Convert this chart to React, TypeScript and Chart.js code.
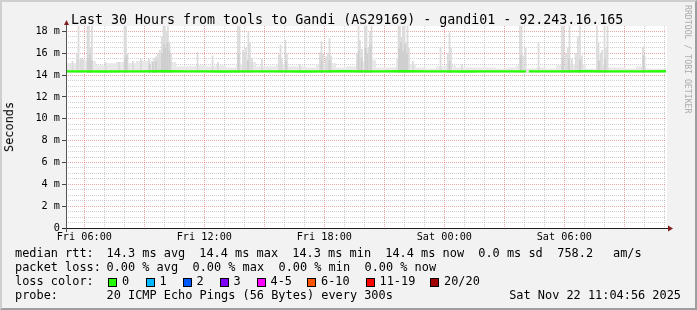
import React, { useEffect, useRef } from "react";
import { Chart, registerables } from "chart.js";

Chart.register(...registerables);

// ---------- time axis (hours since Fri 00:00) ----------
const START_HOUR = 5 + 5 / 60; // Fri 05:05
const END_HOUR = START_HOUR + 30; // Sat 11:05
const xTickHours = [6, 12, 18, 24, 30];
const xTickLabels = ["Fri 06:00", "Fri 12:00", "Fri 18:00", "Sat 00:00", "Sat 06:00"];

// ---------- value axis (milliseconds) ----------
const Y_MAX = 18.5;
const yTickValues = [0, 2, 4, 6, 8, 10, 12, 14, 16, 18];
const yTickLabels = ["0", "2 m", "4 m", "6 m", "8 m", "10 m", "12 m", "14 m", "16 m", "18 m"];
const yGridStep = 0.5;

// ---------- smoke ----------
const SMOKE_MIN = 14.2;
const FUZZ_SLOT = 0.5; // hours per background smoke slot
const fuzzMax = [
  15.1, 15.4, 15.3, 14.9, 15.1, 15.2, 15.1, 15.3, 15.3, 15.6,
  15.2, 14.8, 14.8, 14.9, 14.8, 14.9, 14.7, 15.0, 15.2, 14.8,
  14.8, 15.0, 14.8, 14.8, 14.7, 15.0, 15.1, 14.7, 14.8, 15.3,
  15.4, 14.7, 14.7, 15.5, 15.0, 14.7, 14.6, 14.8, 14.9, 14.7,
  14.7, 14.7, 14.7, 14.6, 14.7, 14.9, 14.6, 14.7, 14.6, 14.9,
  15.0, 15.0, 14.6, 14.9, 14.7, 14.7, 14.6, 14.8, 14.6, 14.6,
];

const spikeHours = [
  5.41, 5.63, 5.71, 5.83, 5.93, 6.16, 6.23, 6.31, 6.38, 7.06,
  7.73, 8.01, 8.08, 8.16, 8.43, 8.83, 9.23, 9.48, 9.58, 9.68,
  9.78, 9.88, 9.96, 10.03, 10.11, 10.18, 10.26, 10.33, 11.66, 12.41,
  12.68, 13.68, 13.76, 13.93, 14.01, 14.08, 14.2, 14.28, 14.38, 14.88,
  15.73, 15.81, 15.88, 16.06, 16.13, 16.78, 17.78, 17.86, 17.93, 18.08,
  18.18, 18.26, 18.33, 19.63, 19.71, 19.78, 19.88, 20.03, 20.11, 20.21,
  20.28, 20.36, 21.71, 21.78, 21.86, 21.93, 22.01, 22.08, 22.16, 22.23,
  22.43, 23.81, 24.18, 24.26, 24.33, 24.88, 27.78, 27.86, 27.93, 28.06,
  28.71, 29.88, 29.96, 30.08, 30.18, 30.26, 30.38, 30.58, 30.68, 30.78,
  30.88, 31.63, 31.71, 31.81, 31.88, 32.01, 32.08, 32.16, 33.93, 34.01,
];
const spikeMax = [
  15.3, 16.0, 18.5, 15.6, 15.5, 18.5, 18.5, 16.5, 18.5, 15.2,
  15.2, 18.5, 18.5, 16.0, 15.3, 15.5, 15.5, 15.5, 15.7, 16.0,
  16.3, 17.5, 18.5, 18.5, 18.0, 18.5, 17.0, 16.0, 16.1, 15.8,
  15.2, 18.5, 18.5, 16.3, 16.0, 16.5, 18.0, 17.0, 15.6, 15.5,
  15.9, 16.8, 15.6, 17.2, 16.0, 15.0, 16.1, 17.1, 16.0, 15.7,
  16.0, 17.4, 15.8, 16.0, 18.5, 17.2, 16.4, 18.5, 18.5, 16.5,
  18.0, 18.5, 18.5, 18.5, 17.5, 18.5, 18.5, 17.0, 18.5, 16.5,
  15.3, 16.6, 16.0, 17.9, 16.5, 15.0, 18.5, 18.5, 15.8, 16.5,
  17.0, 18.5, 18.5, 16.0, 16.5, 18.5, 15.5, 16.0, 17.5, 18.5,
  15.8, 18.5, 17.0, 16.0, 16.3, 18.5, 16.5, 18.5, 16.6, 15.8,
];

const denseHours = [
  6.18, 6.28, 6.36, 8.03, 8.11, 9.28, 9.43, 9.58, 9.88, 9.98,
  10.06, 10.16, 10.26, 13.71, 14.18, 16.08, 17.86, 18.26, 19.71, 19.86,
  20.06, 20.16, 20.31, 21.73, 21.83, 21.93, 22.03, 22.13, 24.26, 27.83,
  29.93, 30.23, 30.78, 31.73, 32.03, 33.96,
];
const denseMax = [
  15.6, 16.0, 15.4, 15.5, 15.8, 15.0, 15.2, 15.3, 16.0, 16.8,
  16.5, 17.0, 16.2, 16.0, 15.4, 15.3, 15.4, 15.4, 16.2, 15.6,
  16.5, 16.0, 16.8, 16.5, 17.0, 16.2, 16.8, 16.0, 15.3, 15.8,
  15.6, 15.5, 15.4, 15.3, 15.5, 15.8,
];

// ---------- median rtt ----------
const medianHours = [
  5.08, 6, 7, 8, 9, 10, 11, 12, 13, 14, 15, 16, 17, 18, 19, 20, 21, 22, 23, 24,
  25, 26, 27, 28, 28.08, 28.16, 28.23, 29, 30, 31, 32, 33, 34, 35.09,
];
const medianValues = [
  14.34, 14.34, 14.33, 14.34, 14.34, 14.35, 14.34, 14.34, 14.33, 14.34,
  14.34, 14.34, 14.33, 14.34, 14.35, 14.34, 14.34, 14.35, 14.34, 14.34,
  14.33, 14.34, 14.34, 14.34, 14.34, null, 14.34, 14.34, 14.34, 14.35,
  14.34, 14.34, 14.34, 14.36,
];

// ---------- legend texts ----------
const titleText = "Last 30 Hours from tools to Gandi (AS29169) - gandi01 - 92.243.16.165";
const yAxisTitle = "Seconds";
const watermark = "RRDTOOL / TOBI OETIKER";
const rttLabels = ["median rtt:", "14.3 ms avg", "14.4 ms max", "14.3 ms min", "14.4 ms now", "0.0 ms sd", "758.2", "am/s"];
const lossLabels = ["packet loss:", "0.00 % avg", "0.00 % max", "0.00 % min", "0.00 % now"];
const lossColorTitle = "loss color:";
const lossColorLabels = ["0", "1", "2", "3", "4-5", "6-10", "11-19", "20/20"];
const lossColors = ["#26ff00", "#00b8ff", "#0059ff", "#7e00ff", "#ff00ff", "#ff5500", "#ff0000", "#a10000"];
const probeTitle = "probe:";
const probeText = "20 ICMP Echo Pings (56 Bytes) every 300s";
const stampText = "Sat Nov 22 11:04:56 2025";

// ---------- layout (pixels) ----------
const W = 697;
const H = 310;
const MONO = "'DejaVu Sans Mono', monospace";
const rttX = [15, 106.5, 199.3, 292.3, 385.3, 478.3, 557.3, 613];
const lossX = [15, 106.5, 192.5, 278.5, 364.5];
const boxX = [108, 145.5, 182.5, 219.5, 256.5, 307, 365.5, 430];
const legendBase = [258.5, 272.2, 286, 299.8];
const LEG_FS = 11.9;

const MAJOR = "rgba(222,79,79,0.5)";
const MINOR = "rgba(143,143,143,0.42)";

const isMajorY = (v: number) => Math.abs(v / 2 - Math.round(v / 2)) < 1e-6;

function Txt(props: { x: number; base: number; size: number; children: any; style?: any }) {
  const { x, base, size, children, style } = props;
  return (
    <div
      style={{
        position: "absolute",
        left: x,
        top: base - 0.846 * size,
        fontFamily: MONO,
        fontSize: size,
        lineHeight: 1,
        whiteSpace: "pre",
        color: "#000",
        ...style,
      }}
    >
      {children}
    </div>
  );
}

export default function App() {
  const ref = useRef<HTMLCanvasElement>(null);

  useEffect(() => {
    const canvas = ref.current;
    if (!canvas) return;

    const fuzzData = fuzzMax.map((v, i) => ({ x: START_HOUR + FUZZ_SLOT * (i + 0.5), y: [SMOKE_MIN, v] }));
    const spikeData = spikeHours.map((h, i) => ({ x: h, y: [SMOKE_MIN, spikeMax[i]] }));
    const denseData = denseHours.map((h, i) => ({ x: h, y: [SMOKE_MIN, denseMax[i]] }));
    const medianData = medianHours.map((h, i) => ({ x: h, y: medianValues[i] }));

    const frame = {
      id: "rrdFrame",
      beforeDraw(chart: any) {
        const { ctx, chartArea: ca } = chart;
        ctx.save();
        ctx.fillStyle = "#ffffff";
        ctx.fillRect(ca.left, ca.top, ca.right - ca.left + 1, ca.bottom - ca.top);
        ctx.restore();
      },
      afterDraw(chart: any) {
        const { ctx, chartArea: ca } = chart;
        ctx.save();
        ctx.lineWidth = 1;
        ctx.strokeStyle = "#1f1f1f";
        ctx.beginPath();
        ctx.moveTo(ca.left - 4, ca.bottom + 0.5);
        ctx.lineTo(ca.right + 2, ca.bottom + 0.5);
        ctx.stroke();
        ctx.strokeStyle = "#555555";
        ctx.beginPath();
        ctx.moveTo(ca.left + 0.5, ca.bottom + 4);
        ctx.lineTo(ca.left + 0.5, ca.top - 1);
        ctx.stroke();
        ctx.fillStyle = "#801f1f";
        ctx.beginPath();
        ctx.moveTo(ca.right + 2, ca.bottom - 2.5);
        ctx.lineTo(ca.right + 7, ca.bottom + 0.5);
        ctx.lineTo(ca.right + 2, ca.bottom + 3.5);
        ctx.closePath();
        ctx.fill();
        ctx.beginPath();
        ctx.moveTo(ca.left - 2, ca.top - 1);
        ctx.lineTo(ca.left + 0.5, ca.top - 6);
        ctx.lineTo(ca.left + 3, ca.top - 1);
        ctx.closePath();
        ctx.fill();
        ctx.restore();
      },
    };

    const chart = new Chart(canvas, {
      type: "bar",
      data: {
        datasets: [
          {
            type: "line",
            label: "median rtt",
            data: medianData,
            borderColor: "#26ff00",
            borderWidth: 2.4,
            pointRadius: 0,
            spanGaps: false,
            tension: 0,
            order: 0,
          },
          {
            type: "bar",
            label: "smoke dense",
            data: denseData,
            backgroundColor: "#cdcdcd",
            borderWidth: 0,
            inflateAmount: 0,
            barThickness: 1.7,
            grouped: false,
            order: 1,
          },
          {
            type: "bar",
            label: "smoke spikes",
            data: spikeData,
            backgroundColor: "#dadada",
            borderWidth: 0,
            inflateAmount: 0,
            barThickness: 1.7,
            grouped: false,
            order: 2,
          },
          {
            type: "bar",
            label: "smoke base",
            data: fuzzData,
            backgroundColor: "#e8e8e8",
            borderWidth: 0,
            inflateAmount: 0,
            barThickness: 10,
            grouped: false,
            order: 3,
          },
        ] as any,
      },
      options: {
        responsive: false,
        animation: false,
        devicePixelRatio: 1,
        events: [],
        layout: { padding: { left: 10, top: 26, right: 31, bottom: 62 } },
        plugins: {
          legend: { display: false },
          tooltip: { enabled: false },
          title: { display: false },
        },
        scales: {
          x: {
            type: "linear",
            min: START_HOUR,
            max: END_HOUR,
            offset: false,
            afterBuildTicks: (s: any) => {
              const t: any[] = [];
              for (let h = Math.ceil(START_HOUR); h <= END_HOUR; h++) t.push({ value: h });
              s.ticks = t;
            },
            afterFit: (s: any) => {
              s.height = 20;
            },
            grid: {
              offset: false,
              drawTicks: false,
              lineWidth: 1,
              color: (c: any) => (c.tick && Math.round(c.tick.value) % 3 === 0 ? MAJOR : MINOR),
            },
            border: { display: false, dash: [1, 1] },
            ticks: {
              autoSkip: false,
              maxRotation: 0,
              minRotation: 0,
              padding: 3.5,
              color: "#000",
              font: { family: MONO, size: 10.2 },
              callback: (v: any) => {
                const i = xTickHours.indexOf(Number(v));
                return i >= 0 ? xTickLabels[i] : "";
              },
            },
          },
          y: {
            type: "linear",
            min: 0,
            max: Y_MAX,
            afterBuildTicks: (s: any) => {
              const t: any[] = [];
              for (let v = 0; v <= yTickValues[yTickValues.length - 1] + 1e-9; v += yGridStep) t.push({ value: v });
              s.ticks = t;
            },
            afterFit: (s: any) => {
              s.width = 56;
            },
            grid: {
              drawTicks: true,
              tickLength: 4,
              lineWidth: 1,
              color: (c: any) => (c.tick && isMajorY(c.tick.value) ? MAJOR : MINOR),
              tickColor: (c: any) => (c.tick && isMajorY(c.tick.value) ? "#444444" : "rgba(0,0,0,0)"),
            },
            border: { display: false, dash: [1, 1] },
            ticks: {
              autoSkip: false,
              padding: 2,
              color: "#000",
              font: { family: MONO, size: 10.2 },
              callback: (v: any) => {
                const n = Number(v);
                const i = yTickValues.findIndex((t) => Math.abs(t - n) < 1e-6);
                return i >= 0 ? yTickLabels[i] : "";
              },
            },
          },
        },
      } as any,
      plugins: [frame],
    });

    return () => chart.destroy();
  }, []);

  return (
    <div
      style={{
        position: "fixed",
        left: 0,
        top: 0,
        width: W,
        height: H,
        background: "#f2f2f2",
        overflow: "hidden",
      }}
    >
      <canvas
        ref={ref}
        width={W}
        height={H}
        style={{ position: "absolute", left: 0, top: 0, width: W, height: H, display: "block" }}
      />

      {/* title */}
      <Txt x={71} base={24} size={13.3}>
        {titleText}
      </Txt>

      {/* y axis title */}
      <div
        style={{
          position: "absolute",
          left: 10,
          top: 127,
          transform: "translate(-50%, -50%) rotate(-90deg)",
          fontFamily: MONO,
          fontSize: LEG_FS,
          lineHeight: 1,
          whiteSpace: "pre",
          color: "#000",
        }}
      >
        {yAxisTitle}
      </div>

      {/* watermark */}
      <div
        style={{
          position: "absolute",
          left: 693.3,
          top: 5,
          transformOrigin: "0 0",
          transform: "rotate(90deg)",
          fontFamily: MONO,
          fontSize: 8.2,
          lineHeight: "10px",
          whiteSpace: "pre",
          color: "#aaaaaa",
        }}
      >
        {watermark}
      </div>

      {/* legend row 1 */}
      {rttLabels.map((t, i) => (
        <Txt key={"r" + i} x={rttX[i]} base={legendBase[0]} size={LEG_FS}>
          {t}
        </Txt>
      ))}

      {/* legend row 2 */}
      {lossLabels.map((t, i) => (
        <Txt key={"l" + i} x={lossX[i]} base={legendBase[1]} size={LEG_FS}>
          {t}
        </Txt>
      ))}

      {/* legend row 3 */}
      <Txt x={15} base={legendBase[2]} size={LEG_FS}>
        {lossColorTitle}
      </Txt>
      {lossColorLabels.map((t, i) => (
        <React.Fragment key={"c" + i}>
          <div
            style={{
              position: "absolute",
              left: boxX[i],
              top: 277.5,
              width: 9,
              height: 9,
              boxSizing: "border-box",
              border: "1px solid #000",
              background: lossColors[i],
            }}
          />
          <Txt x={boxX[i] + 14} base={legendBase[2]} size={LEG_FS}>
            {t}
          </Txt>
        </React.Fragment>
      ))}

      {/* legend row 4 */}
      <Txt x={15} base={legendBase[3]} size={LEG_FS}>
        {probeTitle}
      </Txt>
      <Txt x={106.5} base={legendBase[3]} size={LEG_FS}>
        {probeText}
      </Txt>
      <Txt x={0} base={legendBase[3]} size={LEG_FS} style={{ left: "auto", right: W - 681 }}>
        {stampText}
      </Txt>

      {/* 3D border */}
      <div
        style={{
          position: "absolute",
          left: 0,
          top: 0,
          width: W,
          height: H,
          boxSizing: "border-box",
          borderTop: "2px solid #cfcfcf",
          borderLeft: "2px solid #cfcfcf",
          borderRight: "2px solid #9e9e9e",
          borderBottom: "2px solid #9e9e9e",
          pointerEvents: "none",
        }}
      />
    </div>
  );
}
